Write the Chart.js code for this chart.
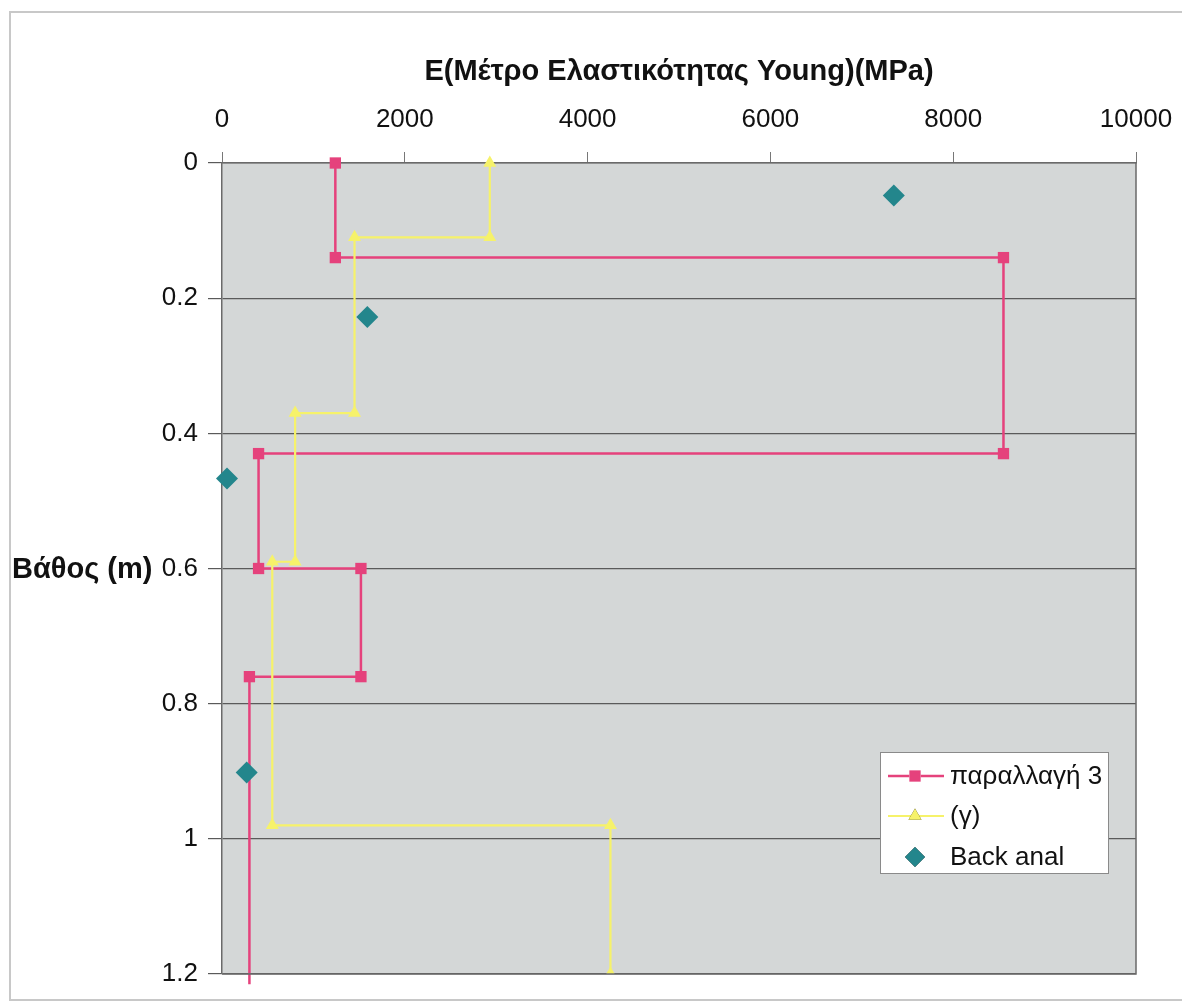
<!DOCTYPE html>
<html>
<head>
<meta charset="utf-8">
<script src="https://cdn.jsdelivr.net/npm/chart.js@4.4.0/dist/chart.umd.min.js"></script>
<style>
  html, body { margin: 0; padding: 0; background: #ffffff; }
  #wrap { width: 1182px; height: 1002px; position: relative; }
</style>
</head>
<body>
<div id="wrap"><canvas id="c" width="1182" height="1002"></canvas></div>
<script>
// Layer profile: Young's modulus (MPa) against depth (m)
const variantE     = [1240, 1240, 8550, 8550, 400, 400, 1520, 1520, 300, 300];
const variantDepth = [0, 0.14, 0.14, 0.43, 0.43, 0.6, 0.6, 0.76, 0.76, 1.215];
const gammaE       = [2930, 2930, 1450, 1450, 800, 800, 550, 550, 4250, 4250];
const gammaDepth   = [0, 0.11, 0.11, 0.37, 0.37, 0.59, 0.59, 0.98, 0.98, 1.2];
const backE        = [7350, 1590, 55, 270];
const backDepth    = [0.048, 0.228, 0.467, 0.902];

const seriesNames = ['παραλλαγή 3', '(γ)', 'Back anal'];
const xTitle = 'E(Μέτρο Ελαστικότητας Young)(MPa)';
const yTitle = 'Βάθος (m)';
const xTicks = [0, 2000, 4000, 6000, 8000, 10000];
const yTicks = [0, 0.2, 0.4, 0.6, 0.8, 1, 1.2];

const PINK = '#e5427c';
const YELLOW = '#f6f26a';
const TEAL = '#23868c';
const PLOT_BG = '#d4d7d7';
const FONT = '"Liberation Sans", Arial, Helvetica, sans-serif';

const toPoints = (xs, ys) => xs.map((x, i) => ({ x: x, y: ys[i] }));

// Last pink vertex sits below the axis: no marker there
const pinkRadius = variantE.map((_, i) => (i === variantE.length - 1 ? 0 : 8));

const frame = {
  id: 'frame',
  beforeDraw(chart) {
    const { ctx, chartArea: a } = chart;
    ctx.save();
    ctx.fillStyle = '#ffffff';
    ctx.fillRect(0, 0, chart.width, chart.height);
    // outer light frame
    ctx.strokeStyle = '#c8c8c8';
    ctx.lineWidth = 2;
    ctx.beginPath();
    ctx.moveTo(1182, 12); ctx.lineTo(10, 12); ctx.lineTo(10, 1000); ctx.lineTo(1182, 1000);
    ctx.stroke();
    // plot background
    ctx.fillStyle = PLOT_BG;
    ctx.fillRect(a.left, a.top, a.right - a.left, a.bottom - a.top);
    ctx.restore();
  },
  afterDatasetsDraw(chart) {
    const { ctx, chartArea: a } = chart;
    ctx.save();
    ctx.strokeStyle = '#6a6a6a';
    ctx.lineWidth = 1.5;
    ctx.beginPath();
    ctx.moveTo(a.right, a.top); ctx.lineTo(a.right, a.bottom); ctx.lineTo(a.left, a.bottom);
    ctx.stroke();

    // vertical axis title, written horizontally beside the 0.6 tick
    const yScale = chart.scales.y;
    ctx.fillStyle = '#111111';
    ctx.font = 'bold 29px ' + FONT;
    ctx.textAlign = 'left';
    ctx.textBaseline = 'middle';
    ctx.fillText(yTitle, 12, yScale.getPixelForValue(0.6) + 1);

    // legend
    const lx = 880, ly = 752, lw = 228, lh = 121;
    ctx.fillStyle = '#ffffff';
    ctx.fillRect(lx, ly, lw, lh);
    ctx.strokeStyle = '#8a8a8a';
    ctx.lineWidth = 1;
    ctx.strokeRect(lx + 0.5, ly + 0.5, lw, lh);
    const rows = [ly + 24, ly + 64, ly + 105];
    const ds = chart.data.datasets;
    ds.forEach((d, i) => {
      const y = rows[i];
      if (d.showLine) {
        ctx.strokeStyle = d.borderColor;
        ctx.lineWidth = d.borderWidth;
        ctx.beginPath(); ctx.moveTo(888, y); ctx.lineTo(944, y); ctx.stroke();
      }
      const r = i === 2 ? 10 : (i === 0 ? 8 : 7.5);
      Chart.helpers.drawPoint(ctx, {
        pointStyle: d.pointStyle, rotation: 0, radius: r,
        borderWidth: 0
      }, 915, y);
      ctx.fillStyle = d.pointBackgroundColor;
      ctx.fill();
      ctx.fillStyle = '#111111';
      ctx.font = '26px ' + FONT;
      ctx.textAlign = 'left';
      ctx.textBaseline = 'middle';
      ctx.fillText(d.label, 950, y + 1);
    });
    ctx.restore();
  }
};

new Chart(document.getElementById('c'), {
  type: 'scatter',
  data: {
    datasets: [
      {
        label: seriesNames[0],
        data: toPoints(variantE, variantDepth),
        showLine: true,
        borderColor: PINK,
        borderWidth: 2.5,
        pointStyle: 'rect',
        pointRadius: pinkRadius,
        pointBackgroundColor: PINK,
        pointBorderWidth: 0,
        clip: { left: 0, top: 10, right: 10, bottom: 12 },
        order: 2
      },
      {
        label: seriesNames[1],
        data: toPoints(gammaE, gammaDepth),
        showLine: true,
        borderColor: YELLOW,
        borderWidth: 2.2,
        pointStyle: 'triangle',
        pointRadius: 7.5,
        pointBackgroundColor: YELLOW,
        pointBorderWidth: 0,
        clip: { left: 0, top: 10, right: 10, bottom: 0 },
        order: 1
      },
      {
        label: seriesNames[2],
        data: toPoints(backE, backDepth),
        showLine: false,
        pointStyle: 'rectRot',
        pointRadius: 11,
        pointBackgroundColor: TEAL,
        pointBorderWidth: 0,
        clip: false,
        order: 0
      }
    ]
  },
  options: {
    responsive: false,
    animation: false,
    events: [],
    layout: { padding: { left: 0, right: 46, top: 0, bottom: 28 } },
    plugins: { legend: { display: false }, tooltip: { enabled: false } },
    scales: {
      x: {
        type: 'linear',
        position: 'top',
        min: 0,
        max: 10000,
        afterBuildTicks: s => { s.ticks = xTicks.map(v => ({ value: v })); },
        afterFit: s => { s.height = 163; s.paddingLeft = 0; s.paddingRight = 0; },
        ticks: {
          autoSkip: false,
          maxRotation: 0,
          padding: 17,
          color: '#111111',
          font: { family: FONT, size: 26 },
          callback: v => String(v)
        },
        grid: {
          drawOnChartArea: false,
          drawTicks: true,
          tickLength: 11,
          color: '#777777',
          lineWidth: 1
        },
        border: { display: true, color: '#6a6a6a', width: 1.5 },
        title: {
          display: true,
          text: xTitle,
          color: '#111111',
          font: { family: FONT, size: 29, weight: 'bold' },
          padding: { top: 55, bottom: 0 }
        }
      },
      y: {
        type: 'linear',
        reverse: true,
        min: 0,
        max: 1.2,
        afterBuildTicks: s => { s.ticks = yTicks.map(v => ({ value: v })); },
        afterFit: s => { s.width = 222; },
        ticks: {
          autoSkip: false,
          padding: 10,
          color: '#111111',
          font: { family: FONT, size: 26 },
          callback: v => String(v)
        },
        grid: {
          drawOnChartArea: true,
          drawTicks: true,
          tickLength: 14,
          color: '#5a5a5a',
          lineWidth: 1.2
        },
        border: { display: true, color: '#6a6a6a', width: 1.5 }
      }
    }
  },
  plugins: [frame]
});
</script>
</body>
</html>
